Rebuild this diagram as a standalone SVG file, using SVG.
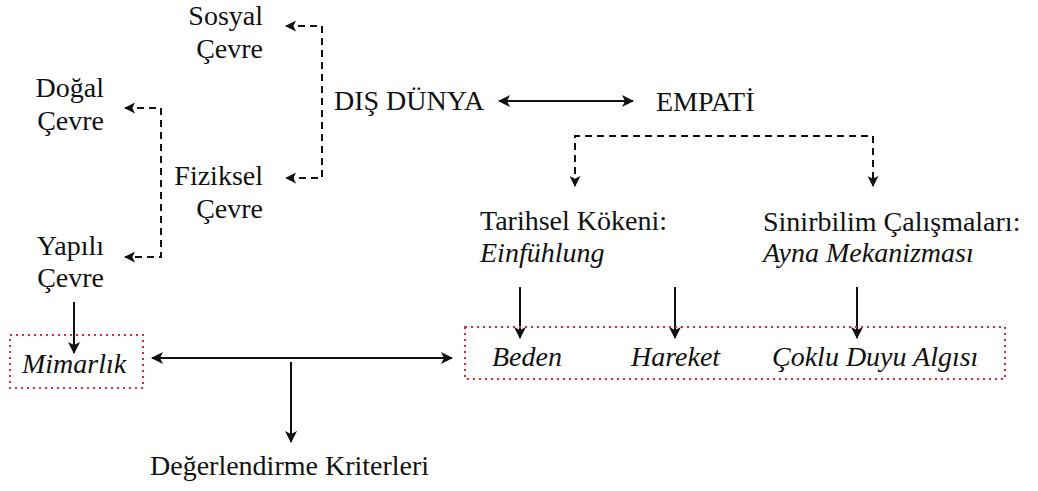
<svg xmlns="http://www.w3.org/2000/svg" width="1038" height="491" viewBox="0 0 1038 491">
<defs>
<style>
text{font-family:'Liberation Serif', 'Times New Roman', serif;font-size:28px;fill:#111}
.it{font-style:italic}
.end{text-anchor:end}
.dash{fill:none;stroke:#111;stroke-width:2;stroke-dasharray:7 5}
.solid{fill:none;stroke:#111;stroke-width:2}
.box{fill:none;stroke:#e8262e;stroke-width:2;stroke-dasharray:2 4}
</style>
<marker id="ah" viewBox="0 0 12 12" refX="11" refY="6" markerWidth="12" markerHeight="12" markerUnits="userSpaceOnUse" orient="auto-start-reverse">
<path d="M0,0 L12,6 L0,12 L3,6 Z" fill="#111" stroke="none"/>
</marker>
<marker id="ahs" viewBox="0 0 12 12" refX="11" refY="6" markerWidth="11" markerHeight="11" markerUnits="userSpaceOnUse" orient="auto-start-reverse">
<path d="M0,0 L12,6 L0,12 L3,6 Z" fill="#111" stroke="none"/>
</marker>
</defs>
<g id="connectors">
<path class="dash" d="M286,26 H322 V178 H286" marker-start="url(#ahs)" marker-end="url(#ahs)"/>
<path class="dash" d="M125,108 H161 V257 H125" marker-start="url(#ahs)" marker-end="url(#ahs)"/>
<path class="dash" d="M575,186 V136 H873 V186" marker-start="url(#ahs)" marker-end="url(#ahs)"/>
<path class="solid" d="M499,101 H633" marker-start="url(#ah)" marker-end="url(#ah)"/>
<path class="solid" d="M74,302 V353" marker-end="url(#ah)"/>
<path class="solid" d="M152,358 H452" marker-start="url(#ah)" marker-end="url(#ah)"/>
<path class="solid" d="M291,362 V442" marker-end="url(#ah)"/>
<path class="solid" d="M520,287 V338" marker-end="url(#ah)"/>
<path class="solid" d="M675,287 V338" marker-end="url(#ah)"/>
<path class="solid" d="M857,287 V338" marker-end="url(#ah)"/>
</g>
<g id="sosyal"><text class="end" x="263" y="25">Sosyal</text><text class="end" x="263" y="58">Çevre</text></g>
<g id="dogal"><text class="end" x="104" y="97">Doğal</text><text class="end" x="104" y="130">Çevre</text></g>
<g id="fiziksel"><text class="end" x="263" y="185">Fiziksel</text><text class="end" x="263" y="218">Çevre</text></g>
<g id="yapili"><text class="end" x="104" y="255">Yapılı</text><text class="end" x="104" y="287">Çevre</text></g>
<g id="dis-dunya"><text x="334" y="110">DIŞ DÜNYA</text></g>
<g id="empati"><text x="656" y="111">EMPATİ</text></g>
<g id="tarihsel"><text x="480" y="230">Tarihsel Kökeni:</text><text class="it" x="480" y="262">Einfühlung</text></g>
<g id="sinirbilim"><text x="763" y="231">Sinirbilim Çalışmaları:</text><text class="it" x="763" y="262">Ayna Mekanizması</text></g>
<g id="mimarlik"><rect class="box" x="10" y="335" width="133" height="53"/><text class="it" x="22" y="373">Mimarlık</text></g>
<g id="algi"><rect class="box" x="465" y="327" width="540" height="52"/><text class="it" x="492" y="366">Beden</text><text class="it" x="631" y="366">Hareket</text><text class="it" x="772" y="366">Çoklu Duyu Algısı</text></g>
<g id="degerlendirme"><text x="150" y="475">Değerlendirme Kriterleri</text></g>
</svg>
